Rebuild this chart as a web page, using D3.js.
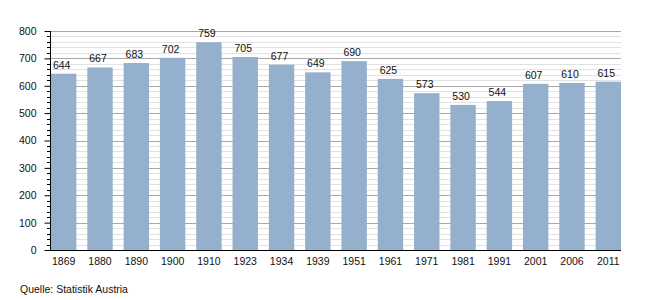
<!DOCTYPE html>
<html>
<head>
<meta charset="utf-8">
<script src="https://cdn.jsdelivr.net/npm/d3@7"></script>
<style>
body { margin: 0; background: #fff; }
text { font-family: "Liberation Sans", Arial, sans-serif; }
</style>
</head>
<body>
<script>
// Data
var years = ["1869","1880","1890","1900","1910","1923","1934","1939","1951","1961","1971","1981","1991","2001","2006","2011"];
var values = [644,667,683,702,759,705,677,649,690,625,573,530,544,607,610,615];
var yTicks = [0,100,200,300,400,500,600,700,800];
var source = "Quelle: Statistik Austria";

var width = 650, height = 300;
var margin = {top: 31, right: 29, bottom: 50, left: 50};

var svg = d3.select("body")
	.append("svg")
		.attr("width", width)
		.attr("height", height);

var xScale = d3.scaleBand()
	.domain(years)
	.range([margin.left + 1, width - margin.right])
	.paddingInner(0.3)
	.paddingOuter(0);

var yScale = d3.scaleLinear()
	.domain([0, 800])
	.range([height - margin.bottom, margin.top]);

var minor = d3.range(20, 800, 20).filter(function(d){ return d % 100 != 0; });

// minor grid lines every 20
svg.append("g")
	.selectAll("line")
	.data(minor)
	.enter()
	.append("line")
		.attr("x1", margin.left)
		.attr("x2", width - margin.right)
		.attr("y1", function(d){ return Math.round(yScale(d)) + 0.5; })
		.attr("y2", function(d){ return Math.round(yScale(d)) + 0.5; })
		.attr("stroke", "#e2e2e2");

// major grid lines
svg.append("g")
	.selectAll("line")
	.data(yTicks.slice(1))
	.enter()
	.append("line")
		.attr("x1", margin.left)
		.attr("x2", width - margin.right)
		.attr("y1", function(d){ return Math.round(yScale(d)) + 0.5; })
		.attr("y2", function(d){ return Math.round(yScale(d)) + 0.5; })
		.attr("stroke", "#a8a8a8");

// bars
svg.selectAll(".bar")
	.data(values)
	.enter()
	.append("rect")
		.attr("class", "bar")
		.attr("fill", "#95b0cd")
		.attr("x", function(d, i){ return xScale(years[i]); })
		.attr("y", function(d){ return yScale(d); })
		.attr("width", xScale.bandwidth())
		.attr("height", function(d){ return yScale(0) - yScale(d); });

// value labels
svg.selectAll(".label")
	.data(values)
	.enter()
	.append("text")
		.attr("class", "label")
		.attr("x", function(d, i){ return xScale(years[i]) + xScale.bandwidth() / 2 - 2; })
		.attr("y", function(d){ return yScale(d) - 5; })
		.attr("text-anchor", "middle")
		.attr("font-size", "10.5px")
		.attr("fill", "#111")
		.text(function(d){ return d; });

// y axis
var y_axis = d3.axisLeft(yScale)
	.tickValues(yTicks)
	.tickSize(6)
	.tickPadding(8);

var yg = svg.append("g")
	.attr("transform", "translate(" + (margin.left + 0.5) + ",0)")
	.call(y_axis);
yg.selectAll("text").attr("font-size", "10.5px").attr("fill", "#111").style("font-family", "Liberation Sans, Arial, sans-serif");
yg.select(".domain").attr("d", "M0," + yScale(800) + "V" + yScale(0));

// minor ticks on y axis
svg.append("g")
	.selectAll("line")
	.data(minor)
	.enter()
	.append("line")
		.attr("x1", margin.left - 3)
		.attr("x2", margin.left)
		.attr("y1", function(d){ return Math.round(yScale(d)) + 0.5; })
		.attr("y2", function(d){ return Math.round(yScale(d)) + 0.5; })
		.attr("stroke", "#000");

// x axis
var x_axis = d3.axisBottom(xScale).tickSize(0).tickPadding(7);
var xg = svg.append("g")
	.attr("transform", "translate(0," + (yScale(0) + 0.5) + ")")
	.call(x_axis);
xg.select(".domain").attr("d", "M" + margin.left + ",0H" + (width - margin.right));
xg.selectAll("text").attr("font-size", "10.5px").attr("fill", "#111").style("font-family", "Liberation Sans, Arial, sans-serif");

// source
svg.append("text")
	.attr("x", 20)
	.attr("y", 293)
	.attr("font-size", "10.5px")
	.attr("fill", "#111")
	.text(source);
</script>
</body>
</html>
